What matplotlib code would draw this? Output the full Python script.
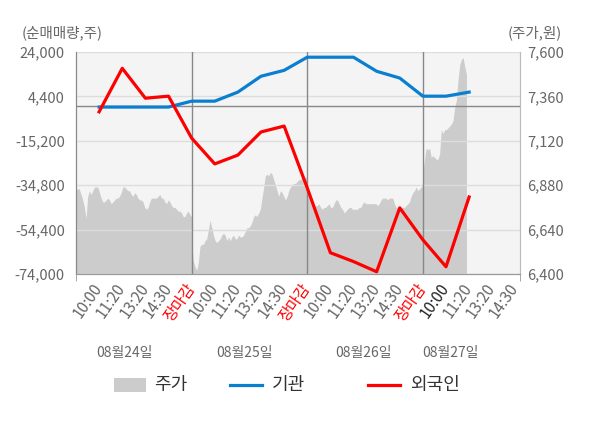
import matplotlib.pyplot as plt
from matplotlib.lines import Line2D
from matplotlib.patches import Rectangle
import numpy as np

plt.rcParams['font.family'] = ['Noto Sans CJK KR', 'DejaVu Sans']

# 주가 (분 단위 근사, 일자별)
price_d1 = [6860, 6860, 6860, 6830, 6800, 6760, 6700, 6820, 6850, 6830,
            6850, 6870, 6870, 6870, 6840, 6810, 6790, 6790, 6800, 6810,
            6800, 6780, 6790, 6800, 6810, 6810, 6820, 6840, 6870, 6870,
            6860, 6850, 6850, 6830, 6820, 6840, 6830, 6810, 6800, 6800,
            6790, 6760, 6750, 6760, 6790, 6810, 6810, 6810, 6810, 6820,
            6830, 6810, 6810, 6790, 6780, 6800, 6790, 6770, 6760, 6760,
            6750, 6740, 6740, 6730, 6710, 6710, 6730, 6740, 6720, 6710]
price_d2 = [6570, 6470, 6440, 6420, 6460, 6550, 6560, 6560, 6580, 6590,
            6640, 6690, 6650, 6610, 6580, 6570, 6580, 6590, 6610, 6620,
            6610, 6580, 6600, 6580, 6600, 6610, 6590, 6590, 6610, 6600,
            6600, 6610, 6630, 6650, 6650, 6660, 6680, 6710, 6720, 6710,
            6730, 6750, 6810, 6870, 6930, 6940, 6930, 6950, 6940, 6910,
            6880, 6850, 6820, 6850, 6840, 6820, 6800, 6820, 6850, 6870,
            6880, 6890, 6890, 6900, 6910, 6910, 6920, 6920, 6920, 6930]
price_d3 = [6870, 6840, 6800, 6780, 6760, 6770, 6770, 6780, 6760, 6750,
            6760, 6760, 6770, 6780, 6760, 6760, 6780, 6800, 6800, 6780,
            6760, 6750, 6730, 6740, 6750, 6760, 6760, 6750, 6750, 6750,
            6750, 6760, 6760, 6780, 6790, 6780, 6780, 6780, 6780, 6780,
            6780, 6780, 6770, 6780, 6800, 6810, 6810, 6810, 6800, 6810,
            6810, 6810, 6780, 6760, 6760, 6760, 6760, 6760, 6760, 6770,
            6780, 6790, 6820, 6840, 6850, 6870, 6850, 6860, 6870, 6880]
price_d4 = [6950, 7020, 7080, 7070, 7080, 7030, 7040, 7030, 7020, 7020,
            7050, 7180, 7160, 7180, 7180, 7190, 7200, 7210, 7230, 7300,
            7340, 7450, 7530, 7560, 7570, 7520, 7480]

# 순매매량 (누적, 주)
inst = [-300, -300, -300, -300, 2300, 2300, 6300, 13300, 15900, 21700,
        21700, 21700, 15500, 12500, 4500, 4500, 6300]
foreign = [-2400, 16800, 3600, 4500, -14000, -25400, -21500, -11300, -8700,
           -36000, -64600, -68500, -73000, -44800, -58900, -70800, -40000]

xtick_labels = ['10:00', '11:20', '13:20', '14:30', '장마감',
                '10:00', '11:20', '13:20', '14:30', '장마감',
                '10:00', '11:20', '13:20', '14:30', '장마감',
                '10:00', '11:20', '13:20', '14:30']
date_labels = ['08월24일', '08월25일', '08월26일', '08월27일']

left_ticks = [24000, 4400, -15200, -34800, -54400, -74000]
right_ticks = [6400, 6640, 6880, 7120, 7360, 7600]

gray_txt = '#666666'
blue = '#0a7fd0'
red = '#ff0000'

fig = plt.figure(figsize=(6, 4.28), dpi=100)
ax = fig.add_axes([76 / 600, 1 - 274 / 428, 444 / 600, 222 / 428])
ax.set_facecolor('#f4f4f4')

# 주가 영역
step = 5 / 69
xs, ps = [], []
for d, day in enumerate([price_d1, price_d2, price_d3, price_d4]):
    xs.extend(d * 5 + np.arange(len(day)) * step)
    ps.extend(day)
ax.fill_between(xs, ps, 6400, color='#cccccc', lw=0)
ax.set_ylim(6400, 7600)
ax.set_xlim(0, 19.2)

ax2 = ax.twinx()
ax.yaxis.tick_right()
ax2.yaxis.tick_left()
ax2.set_ylim(-74000, 24000)
ax2.set_yticks(left_ticks)
ax2.set_yticklabels([f'{v:,}' for v in left_ticks])
ax.set_yticks(right_ticks)
ax.set_yticklabels([f'{v:,}' for v in right_ticks])
ax2.grid(axis='y', color='#dddddd', lw=1)
ax2.axhline(0, color='#888888', lw=1, zorder=1.8)
for b in [5, 10, 15]:
    ax2.axvline(b, color='#888888', lw=1, zorder=1.8)

pos = np.arange(1, len(inst) + 1)
ax2.plot(pos, inst, color=blue, lw=2.3, zorder=3)
ax2.plot(pos, foreign, color=red, lw=2.3, zorder=4)

for a in (ax, ax2):
    a.spines['top'].set_visible(False)
    a.spines['left'].set_color('#888888')
    a.spines['right'].set_color('#bbbbbb')
    a.spines['bottom'].set_color('#999999')
ax.tick_params(axis='y', length=0, labelsize=10.5, labelcolor=gray_txt, pad=5)
ax2.tick_params(axis='y', length=0, labelsize=10.5, labelcolor=gray_txt, pad=8)

ax.set_xticks(np.arange(1, 20))
ax.set_xticklabels(xtick_labels, rotation=55, ha='right', va='center',
                   rotation_mode='anchor')
ax.set_xticks([0, 5, 10, 15, 19.2], minor=True)
ax.tick_params(axis='x', which='major', length=0, labelsize=11, pad=8)
ax.tick_params(axis='x', which='minor', length=5, color='#999999')
for i, t in enumerate(ax.get_xticklabels()):
    if xtick_labels[i] == '장마감':
        t.set_color(red)
    elif i == 15:
        t.set_color('#222222')
    else:
        t.set_color(gray_txt)

for x, lab in zip([2.1, 7.3, 12.45, 16.2], date_labels):
    ax.text(x, -0.355, lab, transform=ax.get_xaxis_transform(), ha='center',
            va='center', fontsize=10, color=gray_txt)

fig.text(22 / 600, 1 - 33 / 428, '(순매매량,주)', fontsize=10.5, color=gray_txt,
         ha='left', va='center')
fig.text(562 / 600, 1 - 33 / 428, '(주가,원)', fontsize=10.5, color=gray_txt,
         ha='right', va='center')

# 범례
ly = 1 - 385 / 428
fig.add_artist(Rectangle((114 / 600, 1 - 392 / 428), 32 / 600, 14 / 428,
                         transform=fig.transFigure, color='#cccccc', lw=0))
fig.add_artist(Line2D([230 / 600, 262 / 600], [ly, ly], color=blue, lw=2.3,
                      transform=fig.transFigure))
fig.add_artist(Line2D([368 / 600, 400 / 600], [ly, ly], color=red, lw=2.3,
                      transform=fig.transFigure))
for x, lab in zip([154, 272, 410], ['주가', '기관', '외국인']):
    fig.text(x / 600, ly, lab, fontsize=13, color='#333333', ha='left',
             va='center')

fig.savefig('out.png', dpi=100)
